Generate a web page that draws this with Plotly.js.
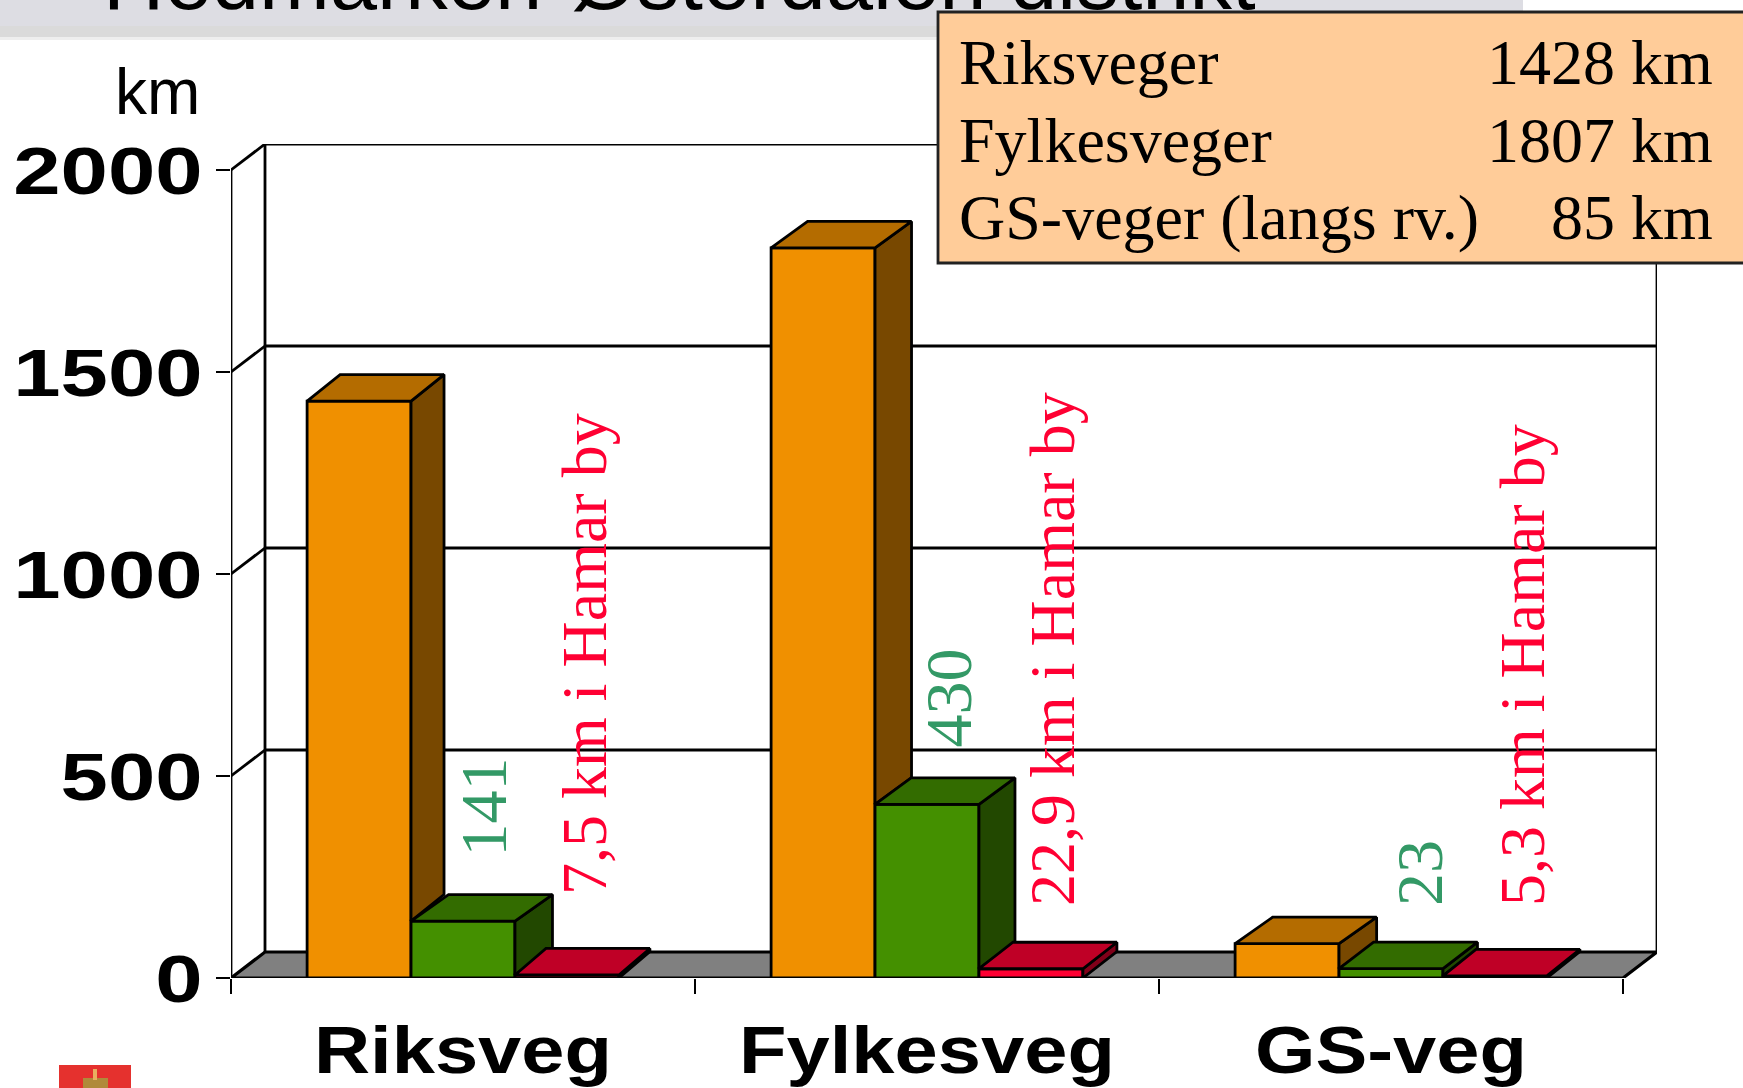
<!DOCTYPE html>
<html>
<head>
<meta charset="utf-8">
<script src="https://cdn.plot.ly/plotly-3.0.1.min.js"></script>
<style>html,body{margin:0;padding:0;background:#fff;overflow:hidden}#chart{width:1743px;height:1088px}</style>
</head>
<body>
<div id="chart"></div>
<script>
// ---- data ----
const categories = ['Riksveg', 'Fylkesveg', 'GS-veg'];
const riksveger  = [1428, 141, 7.5];
const fylkesveger = [1807, 430, 22.9];
const gsveger    = [85, 23, 5.3];
const yTicks = [0, 500, 1000, 1500, 2000];
const greenLabels = ['141', '430', '23'];
const redLabels = ['7,5 km i Hamar by', '22,9 km i Hamar by', '5,3 km i Hamar by'];
const boxNames = ['Riksveger', 'Fylkesveger', 'GS-veger (langs rv.)'];
const boxValues = ['1428 km', '1807 km', '85 km'];
const titleText = 'Hedmarken-Østerdalen distrikt';
const unitText = 'km';

// ---- geometry / style ----
const W = 1743, H = 1088;
const X0 = 231, X3 = 1623, XBACK = 1657, Y0 = 978, YTOP = 144, KM_PX = 0.404;
const PX_PER_CAT = (X3 - X0) / 3;
const DX = (XBACK - X3) / PX_PER_CAT, DY = 26 / KM_PX;
const yMax = (Y0 - YTOP) / KM_PX;
const BARGAP = 0.328;
const BW = (1 - BARGAP) / 3;
const BAR_DX = [[33, 37.5, 31], [36.5, 36, 34], [37.6, 34.5, 33]].map(r => r.map(p => p / PX_PER_CAT));
const BAR_DY = 26.5 / KM_PX;
const LW = 2.8;
const front = ['#F09000', '#449000', '#FF0033'];
const side  = ['#784800', '#224800', '#800019'];
const top_  = ['#B46C00', '#336C00', '#BF0026'];
const seriesNames = ['Orange', 'Grønn', 'Rød'];
const byGroup = [riksveger, fylkesveger, gsveger];
const px = x => x / W, py = y => 1 - y / H;

// front faces: real bar traces
const traces = [0, 1, 2].map(s => ({
  type: 'bar', name: seriesNames[s], showlegend: false, hoverinfo: 'y', cliponaxis: false,
  x: categories.map((_, i) => i + 0.5),
  y: byGroup.map(g => g[s]),
  marker: { color: front[s], line: { color: '#000', width: LW } }
}));

// extruded sides and tops computed from the same values
byGroup.forEach((g, i) => {
  g.forEach((v, s) => {
    const l = i + 0.5 - 1.5 * BW + s * BW, r = l + BW, d = BAR_DX[i][s];
    const next = s < 2 ? g[s + 1] : 0;
    traces.push({
      type: 'scatter', mode: 'lines', fill: 'toself', showlegend: false, hoverinfo: 'skip', cliponaxis: false,
      x: [r, r, r + d, r + d, r], y: [next, v, v + BAR_DY, next + BAR_DY, next],
      fillcolor: side[s], line: { color: '#000', width: LW }
    });
    traces.push({
      type: 'scatter', mode: 'lines', fill: 'toself', showlegend: false, hoverinfo: 'skip', cliponaxis: false,
      x: [l, r, r + d, l + d, l], y: [v, v, v + BAR_DY, v + BAR_DY, v],
      fillcolor: top_[s], line: { color: '#000', width: LW }
    });
  });
});

const dataLine = (x0, y0, x1, y1) => ({ type: 'line', xref: 'x', yref: 'y', layer: 'below', x0, y0, x1, y1, line: { color: '#000', width: LW } });
const paperRect = (a, b, c, d, fill, lineCol, lw, layer) => ({
  type: 'rect', xref: 'paper', yref: 'paper', layer, x0: px(a), x1: px(c), y0: py(d), y1: py(b),
  fillcolor: fill, line: { color: lineCol || 'rgba(0,0,0,0)', width: lw || 0 }
});

const shapes = [
  // title banner
  paperRect(0, 0, 1523, 26, '#DDDDE3', null, 0, 'below'),
  paperRect(0, 26, 1523, 37, '#DADADA', null, 0, 'below'),
  paperRect(0, 37, 1523, 40, '#EEEEEE', null, 0, 'below'),
  // floor
  { type: 'path', xref: 'x', yref: 'y', layer: 'below',
    path: `M0,0 L3,0 L${3 + DX},${DY} L${DX},${DY} Z`, fillcolor: '#808080', line: { color: '#000', width: LW + 0.4 } },
  // walls
  dataLine(0, 0, 0, 2000),
  dataLine(DX, DY, DX, 2000 + DY),
  dataLine(3 + DX, DY, 3 + DX, 2000 + DY),
  dataLine(DX, 2000 + DY, 3 + DX, 2000 + DY),
  ...yTicks.filter(v => v > 0 && v < 2000).map(v => dataLine(DX, v + DY, 3 + DX, v + DY)),
  ...yTicks.filter(v => v > 0).map(v => dataLine(0, v, DX, v + DY)),
  // info box
  paperRect(938, 12, 1760, 263, '#FFCC99', '#222', 2.8, 'above'),
  // emblem
  paperRect(59, 1065, 131, 1092, '#E5312E', null, 0, 'above'),
  paperRect(83, 1078, 108, 1092, '#B08A3A', null, 0, 'above'),
  paperRect(93, 1069, 97, 1080, '#E8B060', null, 0, 'above')
];

const ann = (text, x, y, size, color, opts) => Object.assign({
  text, xref: 'paper', yref: 'paper', x: px(x), y: py(y), showarrow: false,
  xanchor: 'left', yanchor: 'middle', font: { family: 'Liberation Serif', size, color }
}, opts || {});

const annotations = [
  ann(titleText, 101, -21, 85, '#000', { font: { family: 'Liberation Sans', size: 85, color: '#000' } }),
  ann(unitText, 202, 92, 64, '#000', { xanchor: 'right', font: { family: 'Liberation Sans', size: 64, color: '#000' } })
];
const greenPos = [[483, 859], [948, 750], [1419, 908]];
const redPos = [[584, 897], [1052, 908], [1522, 908]];
greenLabels.forEach((t, i) => annotations.push(ann(t, greenPos[i][0], greenPos[i][1], 66, '#339966', { textangle: -90, xanchor: 'center', yanchor: 'bottom' })));
redLabels.forEach((t, i) => annotations.push(ann(t, redPos[i][0], redPos[i][1], 64, '#FF0033', { textangle: -90, xanchor: 'center', yanchor: 'bottom' })));
const rowY = [63, 140, 217];
boxNames.forEach((t, i) => annotations.push(ann(t, 957, rowY[i], 64, '#000')));
boxValues.forEach((t, i) => annotations.push(ann(t, 1715, rowY[i], 64, '#000', { xanchor: 'right' })));

const layout = {
  width: W, height: H, margin: { l: 0, r: 0, t: 0, b: 0 },
  paper_bgcolor: '#fff', plot_bgcolor: 'rgba(0,0,0,0)', showlegend: false,
  barmode: 'group', bargap: BARGAP, bargroupgap: 0,
  xaxis: {
    domain: [px(X0), px(XBACK)], range: [0, 3 + DX], showgrid: false, zeroline: false, showline: false,
    tickmode: 'array', tickvals: categories.map((_, i) => i + 0.5), ticktext: categories,
    ticks: '', ticklabelstandoff: 27,
    tickfont: { family: 'Liberation Sans', size: 67, color: '#000', weight: 'bold' },
    minor: { tickmode: 'array', tickvals: [0, 1, 2, 3], ticks: 'outside', ticklen: 15, tickwidth: 2.4, tickcolor: '#000', showgrid: false }
  },
  yaxis: {
    domain: [py(Y0), py(YTOP)], range: [0, yMax], showgrid: false, zeroline: false, showline: false,
    tickmode: 'array', tickvals: yTicks, ticktext: yTicks.map(String),
    ticks: 'outside', ticklen: 14, tickwidth: 2.4, tickcolor: '#000', ticklabelstandoff: 0, ticklabelshift: 1,
    tickfont: { family: 'Liberation Sans', size: 67, color: '#000', weight: 'bold' }
  },
  shapes, annotations
};

// the reference's bold axis labels are horizontally stretched
function stretch(sel, sx, edge) {
  document.querySelectorAll(sel).forEach(el => {
    const r = el.getBoundingClientRect();
    const ctm = el.parentNode.getScreenCTM();
    const a = (edge === 'right' ? r.right : (r.left + r.right) / 2) - ctm.e;
    el.setAttribute('transform', `translate(${a},0) scale(${sx},1) translate(${-a},0) ` + (el.getAttribute('transform') || ''));
  });
}
Plotly.newPlot('chart', traces, layout, { displayModeBar: false, staticPlot: true }).then(() => {
  stretch('.ytick text', 1.27, 'right');
  stretch('.xtick text', 1.16, 'center');
});
</script>
</body>
</html>
